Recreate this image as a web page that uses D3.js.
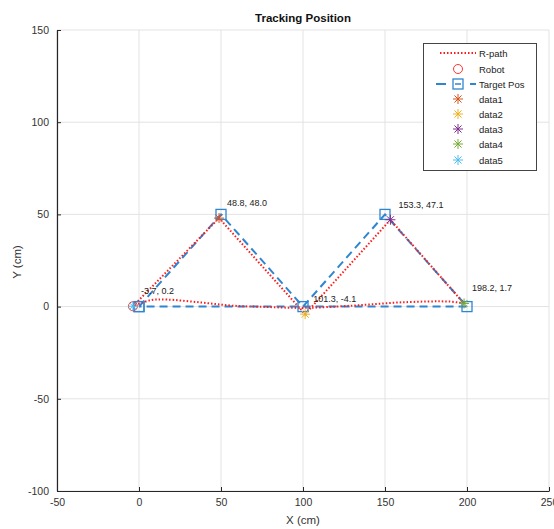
<!DOCTYPE html>
<html><head><meta charset="utf-8">
<script src="https://cdn.jsdelivr.net/npm/d3@7"></script>
<style>body{margin:0;background:#fff}svg{font-family:"Liberation Sans",Arial,sans-serif}</style>
</head><body><svg id="c" width="554" height="529"></svg>
<script>
const xTicks = [-50, 0, 50, 100, 150, 200, 250];
const yTicks = [-100, -50, 0, 50, 100, 150];
const targetX = [0, 50, 100, 150, 200, 0];
const targetY = [0, 50, 0, 50, 0, 0];
const pathX = [-3.7, 48.8, 101.3, 153.3, 198.2, 190, 160, 130, 100, 78, 57, 37, 17, 7, -3.7];
const pathY = [0.2, 48.0, -4.1, 47.1, 1.7, 2.7, 2.3, 0.5, -0.7, -0.2, 0.5, 2.3, 3.8, 3.5, 0.2];
const robotX = [-3.7], robotY = [0.2];
const starNames = ["data1", "data2", "data3", "data4", "data5"];
const starX = [48.8, 101.3, 153.3, 198.2, -3.7];
const starY = [48.0, -4.1, 47.1, 1.7, 0.2];
const starLabels = ["48.8, 48.0", "101.3, -4.1", "153.3, 47.1", "198.2, 1.7", "-3.7, 0.2"];
const starColors = ["#D95319", "#EDB120", "#7E2F8E", "#77AC30", "#4DBEEE"];
const blue = "#2F86D0";

const svg = d3.select("#c");
const x = d3.scaleLinear().domain([-50, 250]).range([57, 549]);
const y = d3.scaleLinear().domain([-100, 150]).range([491, 30]);
const axisCol = "#262626", tickTxt = "#333";
const fmt = d => String(d);

// grid
svg.append("g").selectAll("line").data(xTicks).join("line")
  .attr("x1", d => x(d)).attr("x2", d => x(d)).attr("y1", y(-100)).attr("y2", y(150))
  .attr("stroke", "#e3e3e3").attr("stroke-width", 1);
svg.append("g").selectAll("line").data(yTicks).join("line")
  .attr("y1", d => y(d)).attr("y2", d => y(d)).attr("x1", x(-50)).attr("x2", x(250))
  .attr("stroke", "#e3e3e3").attr("stroke-width", 1);

// axes
const gx = svg.append("g").attr("transform", `translate(0,${y(-100)})`)
  .call(d3.axisBottom(x).tickValues(xTicks).tickFormat(fmt).tickSizeInner(-4).tickSizeOuter(0).tickPadding(8));
const gy = svg.append("g").attr("transform", `translate(${x(-50)},0)`)
  .call(d3.axisLeft(y).tickValues(yTicks).tickFormat(fmt).tickSizeInner(-4).tickSizeOuter(0).tickPadding(8));
[gx, gy].forEach(g => {
  g.select(".domain").attr("stroke", axisCol).attr("stroke-width", 1.2);
  g.selectAll(".tick line").attr("stroke", axisCol);
  g.selectAll(".tick text").attr("fill", tickTxt).attr("font-size", 10.5).attr("font-family", "Liberation Sans, Arial, sans-serif");
});

svg.append("text").attr("x", 303).attr("y", 22).attr("text-anchor", "middle")
  .attr("font-weight", "bold").attr("font-size", 11.5).attr("fill", "#111").text("Tracking Position");
svg.append("text").attr("x", 303).attr("y", 524).attr("text-anchor", "middle")
  .attr("font-size", 11.5).attr("fill", "#333").text("X (cm)");
svg.append("text").attr("transform", `translate(21,262) rotate(-90)`).attr("text-anchor", "middle")
  .attr("font-size", 11.5).attr("fill", "#333").text("Y (cm)");

// target path
const tdata = targetX.map((d, i) => [d, targetY[i]]);
svg.append("path").datum(tdata).attr("fill", "none").attr("stroke", blue).attr("stroke-width", 2)
  .attr("stroke-dasharray", "8,5")
  .attr("d", d3.line().x(d => x(d[0])).y(d => y(d[1])));

// robot path
const pdata = pathX.map((d, i) => [d, pathY[i]]);
const linePart = pdata.slice(0, 5);
const curvePart = pdata.slice(4);
svg.append("path").datum(linePart).attr("fill", "none").attr("stroke", "#ff1a1a").attr("stroke-width", 2)
  .attr("stroke-dasharray", "1.5,2")
  .attr("d", d3.line().x(d => x(d[0])).y(d => y(d[1])));
svg.append("path").datum(curvePart).attr("fill", "none").attr("stroke", "#ff1a1a").attr("stroke-width", 2)
  .attr("stroke-dasharray", "1.5,2")
  .attr("d", d3.line().curve(d3.curveCatmullRom).x(d => x(d[0])).y(d => y(d[1])));

// target squares
svg.append("g").selectAll("rect").data(tdata).join("rect")
  .attr("x", d => x(d[0]) - 5).attr("y", d => y(d[1]) - 5).attr("width", 10).attr("height", 10)
  .attr("fill", "none").attr("stroke", blue).attr("stroke-width", 1.3);

// robot circle
svg.append("g").selectAll("circle").data(robotX).join("circle")
  .attr("cx", (d) => x(d)).attr("cy", (d, i) => y(robotY[i])).attr("r", 4.5)
  .attr("fill", "none").attr("stroke", "#ff3333").attr("stroke-width", 1);

function star(g, cx, cy, r, col) {
  const s = g.append("g").attr("stroke", col).attr("stroke-width", 1);
  for (let k = 0; k < 4; k++) {
    const a = k * Math.PI / 4;
    s.append("line").attr("x1", cx - r * Math.cos(a)).attr("y1", cy - r * Math.sin(a))
      .attr("x2", cx + r * Math.cos(a)).attr("y2", cy + r * Math.sin(a));
  }
}
const sg = svg.append("g");
starX.forEach((d, i) => star(sg, x(d), y(starY[i]), 5, starColors[i]));
svg.append("g").selectAll("text").data(starLabels).join("text")
  .attr("x", (d, i) => x(starX[i]) + 8).attr("y", (d, i) => y(starY[i]) - 12)
  .attr("font-size", 9).attr("fill", "#222").text(d => d);

// legend
const lg = svg.append("g");
lg.append("rect").attr("x", 423.5).attr("y", 43.5).attr("width", 113).attr("height", 127)
  .attr("fill", "#fff").attr("stroke", "#444").attr("stroke-width", 1);
const ly = [53, 69, 84, 99, 114, 129, 144, 160];
const names = ["R-path", "Robot", "Target Pos"].concat(starNames);
names.forEach((n, i) => {
  lg.append("text").attr("x", 479).attr("y", ly[i] + 3.5).attr("font-size", 9.5).attr("fill", "#222").text(n);
});
lg.append("line").attr("x1", 440).attr("x2", 476).attr("y1", ly[0]).attr("y2", ly[0])
  .attr("stroke", "#ff1a1a").attr("stroke-width", 2).attr("stroke-dasharray", "1.5,2");
lg.append("circle").attr("cx", 458).attr("cy", ly[1]).attr("r", 4.5).attr("fill", "none")
  .attr("stroke", "#ff3333").attr("stroke-width", 1);
lg.append("line").attr("x1", 436).attr("x2", 446).attr("y1", ly[2]).attr("y2", ly[2])
  .attr("stroke", blue).attr("stroke-width", 2);
lg.append("line").attr("x1", 470).attr("x2", 476).attr("y1", ly[2]).attr("y2", ly[2])
  .attr("stroke", blue).attr("stroke-width", 2);
lg.append("rect").attr("x", 453).attr("y", ly[2] - 5).attr("width", 10).attr("height", 10)
  .attr("fill", "#fff").attr("stroke", blue).attr("stroke-width", 1.3);
lg.append("line").attr("x1", 455).attr("x2", 461).attr("y1", ly[2]).attr("y2", ly[2])
  .attr("stroke", blue).attr("stroke-width", 1.5);
starColors.forEach((c, i) => star(lg, 458, ly[3 + i], 5, c));
</script></body></html>
